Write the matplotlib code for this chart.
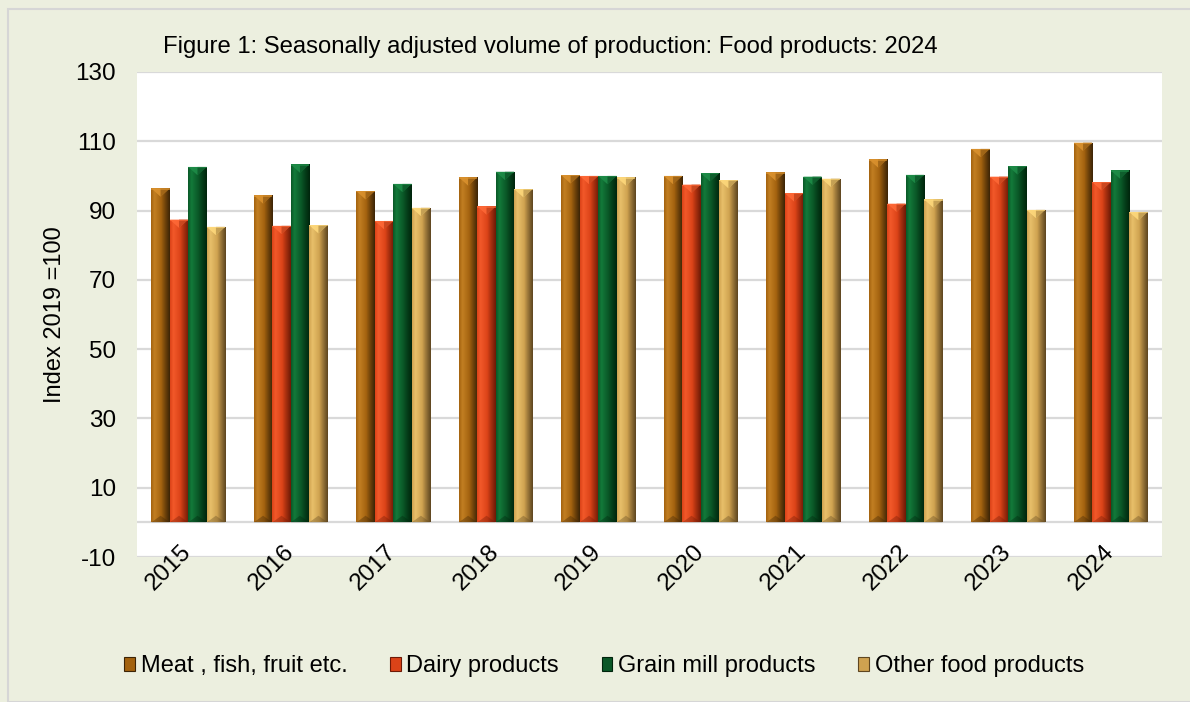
import numpy as np
import matplotlib
matplotlib.use("Agg")
import matplotlib.pyplot as plt
from matplotlib.patches import Polygon, Rectangle
from matplotlib.colors import to_rgb

plt.rcParams['font.family'] = ['Liberation Sans', 'DejaVu Sans']

years = ["2015", "2016", "2017", "2018", "2019", "2020", "2021", "2022", "2023", "2024"]
meat = [96.4, 94.4, 95.6, 99.6, 100.2, 100.0, 101.0, 104.8, 107.8, 109.6]
dairy = [87.4, 85.6, 87.0, 91.2, 100.0, 97.5, 95.0, 92.0, 99.8, 98.2]
grain = [102.6, 103.3, 97.7, 101.2, 100.0, 100.8, 99.8, 100.3, 102.8, 101.6]
other = [85.3, 85.8, 90.8, 96.2, 99.6, 98.8, 99.2, 93.2, 90.2, 89.6]
series_names = ["Meat , fish, fruit etc.", "Dairy products", "Grain mill products", "Other food products"]
yticks = [-10, 10, 30, 50, 70, 90, 110, 130]

# (light, base, dark) shades per series
shades = [
    ("#C27F22", "#A3620F", "#3C2406"),
    ("#F2592A", "#DB4318", "#6E1A06"),
    ("#137A3A", "#0A5727", "#00240C"),
    ("#E8C06A", "#CFA250", "#5E4620"),
]

BG = "#ECEFDF"
fig = plt.figure(figsize=(11.9, 7.02), dpi=100, facecolor=BG)
fig.patches.append(Rectangle((8 / 1190, 0.0), 1.0, 1 - 9 / 702, transform=fig.transFigure,
                             fill=False, edgecolor="#D6D6D6", lw=1.5, zorder=0))
ax = fig.add_axes([137 / 1190, 1 - 557 / 702, (1162 - 137) / 1190, (557 - 72) / 702])
ax.set_facecolor("white")

x = np.arange(len(years))
bw = 0.18
data = [meat, dairy, grain, other]
ax.set_xlim(-0.5, len(years) - 0.5)
ax.set_ylim(-10, 130)


def gradient_img(light, base, dark, n=64):
    t = np.linspace(0, 1, n)
    L, B, D = (np.array(to_rgb(c)) for c in (light, base, dark))
    cols = []
    for v in t:
        if v < 0.18:
            f = v / 0.18
            c = B * (1 - f) + L * f
        elif v < 0.55:
            f = (v - 0.18) / 0.37
            c = L * (1 - f) + B * f
        else:
            f = ((v - 0.55) / 0.45) ** 0.9
            c = B * (1 - f) + D * f
        cols.append(c)
    return np.array(cols)[None, :, :]


px_per_unit_y = (557 - 72) / 140.0
px_per_unit_x = (1162 - 137) / 10.0
bar_px = bw * px_per_unit_x
tri_d = (bar_px * 0.45) / px_per_unit_y

for i, (vals, (lc, bc, dc)) in enumerate(zip(data, shades)):
    offs = (i - 1.5) * bw
    bars = ax.bar(x + offs, vals, width=bw, color=bc, edgecolor="none", zorder=2)
    img = gradient_img(lc, bc, dc)
    for b in bars:
        x0, w, h = b.get_x(), b.get_width(), b.get_height()
        im = ax.imshow(img, extent=(x0, x0 + w, 0, h), aspect="auto", zorder=3,
                       interpolation="bilinear")
        im.set_clip_path(b)
        L = np.array(to_rgb(lc))
        topc = np.clip(L * 1.08 + 0.04, 0, 1)
        ax.add_patch(Polygon([(x0, h), (x0 + w, h), (x0 + w / 2, h - tri_d)], closed=True,
                             facecolor=topc, edgecolor="none", zorder=4, alpha=0.85))
        ax.add_patch(Polygon([(x0 + w / 2, h - tri_d), (x0 + w, h), (x0 + w * 0.5, h)],
                             closed=True, facecolor=np.array(to_rgb(bc)) * 0.8,
                             edgecolor="none", zorder=4, alpha=0.6))
        ax.add_patch(Polygon([(x0, 0), (x0 + w / 2, tri_d * 0.8), (x0 + w, 0)], closed=True,
                             facecolor=np.array(to_rgb(dc)), edgecolor="none", zorder=4,
                             alpha=0.35))
        ax.add_patch(Rectangle((x0, h - 0.35), w, 0.35, facecolor=topc, edgecolor="none",
                               zorder=5, alpha=0.6))

ax.set_xlim(-0.5, len(years) - 0.5)
ax.set_ylim(-10, 130)
ax.set_yticks(yticks)
ax.set_yticklabels([str(v) for v in yticks], fontsize=17.5)
ax.tick_params(axis="y", length=0, pad=15)
ax.yaxis.grid(True, color="#D9D9D9", lw=1.6, zorder=1)
ax.axhline(0, color="#D9D9D9", lw=1.6, zorder=1)
ax.set_axisbelow(True)
ax.set_xticks(x)
ax.set_xticklabels(years, fontsize=17.5, rotation=45, ha="right", va="center",
                   rotation_mode="anchor")
ax.tick_params(axis="x", length=0, pad=-6)
ax.xaxis.set_zorder(6)
for s in ax.spines.values():
    s.set_visible(False)

fig.text(55 / 1190, 1 - 315 / 702, "Index 2019 =100", rotation=90, fontsize=17,
         ha="center", va="center")
fig.text(163 / 1190, 1 - 47 / 702,
         "Figure 1: Seasonally adjusted volume of production: Food products: 2024",
         fontsize=17.2, ha="left", va="center")

handles = [Rectangle((0, 0), 1, 1, facecolor=s[1], edgecolor=s[2], lw=0.8) for s in shades]
fig.legend(handles, series_names, loc="center", bbox_to_anchor=(604 / 1190, 1 - 666 / 702),
           ncol=4, frameon=False, fontsize=17, handlelength=0.45, handleheight=0.55,
           handletextpad=0.25, columnspacing=1.8)

fig.savefig("out.png", dpi=100, facecolor=BG)
